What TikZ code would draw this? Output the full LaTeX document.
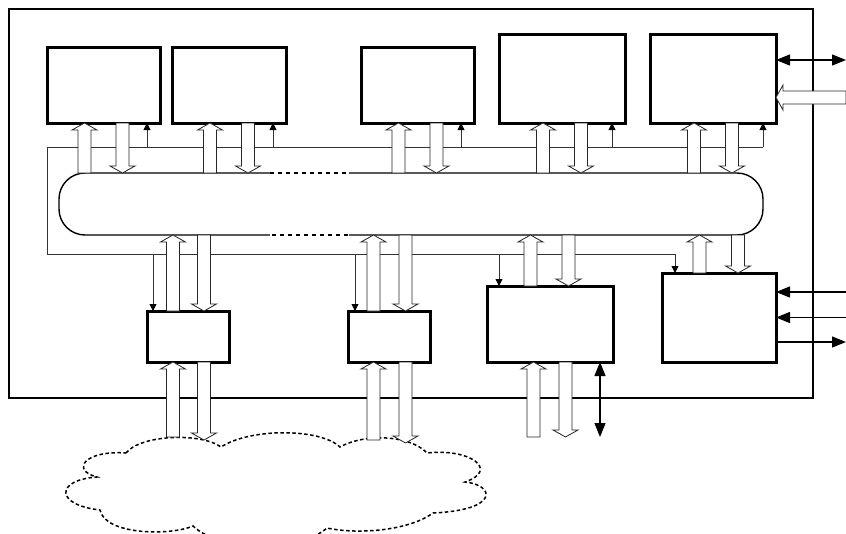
\documentclass[tikz,border=0pt]{standalone}
\usetikzlibrary{arrows.meta,calc}

\begin{document}
\begin{tikzpicture}[x=1pt,y=-1pt,
  unit/.style={draw=black,line width=3pt,fill=white,inner sep=0pt,outer sep=0pt},
  frame/.style={draw=black,line width=1.4pt,inner sep=0pt,outer sep=0pt},
  ctl/.style={draw=black!80,line width=.8pt},
  ctlarr/.style={ctl,-{Triangle[length=7pt,width=7pt,color=black]}},
  sig/.style={draw=black,line width=1.3pt,-{Triangle[length=14pt,width=11pt]}},
  sigboth/.style={draw=black,line width=1.3pt,{Triangle[length=14pt,width=11pt]}-{Triangle[length=14pt,width=11pt]}},
  fat/.style={draw=black!85,line width=.8pt,fill=white,
    to path={let \p1=(\tikztostart),\p2=(\tikztotarget),
      \n1={veclen(\x2-\x1,\y2-\y1)},\n2={(\x2-\x1)/\n1},\n3={(\y2-\y1)/\n1} in
      (\x1-6.5*\n3,\y1+6.5*\n2) -- (\x2-7*\n2-6.5*\n3,\y2-7*\n3+6.5*\n2)
      -- (\x2-7*\n2-12.5*\n3,\y2-7*\n3+12.5*\n2) -- (\tikztotarget)
      -- (\x2-7*\n2+12.5*\n3,\y2-7*\n3-12.5*\n2) -- (\x2-7*\n2+6.5*\n3,\y2-7*\n3-6.5*\n2)
      -- (\x1+6.5*\n3,\y1-6.5*\n2) -- cycle}},
  cloudline/.style={draw=black,line width=1.5pt,dash pattern=on 3.5pt off 2.5pt}]
\useasboundingbox (0,0) rectangle (846,533);

% system frame
\node[frame,minimum width=804pt,minimum height=389pt] (sys) at (411,203.5) {};
\coordinate (rim) at (846,0);

% control lines
\coordinate (ctop) at (47,147);
\coordinate (cbot) at (47,254);

% units on top
\node[unit,minimum width=113pt,minimum height=76pt] (t1) at (103.5,85) {};
\node[unit,minimum width=114pt,minimum height=76pt] (t2) at (229,85) {};
\node[unit,minimum width=113pt,minimum height=76pt] (t3) at (417.5,85) {};
\node[unit,minimum width=126pt,minimum height=89pt] (t4) at (562,78.5) {};
\node[unit,minimum width=126pt,minimum height=89pt] (t5) at (713,78.5) {};

% units below
\node[unit,minimum width=82pt,minimum height=51pt] (b1) at (188,336.5) {};
\node[unit,minimum width=82pt,minimum height=51pt] (b2) at (389,336.5) {};
\node[unit,minimum width=126pt,minimum height=76pt] (b3) at (550,324) {};
\node[unit,minimum width=114pt,minimum height=89pt] (b4) at (719,317.5) {};

\draw[ctl] ([xshift=-13pt]t5.south east |- ctop) -- (ctop) -- (cbot) -- ([xshift=13pt]b4.north west |- cbot);
\foreach \b in {t1,t2,t3,t4,t5}
  \draw[ctlarr] ([xshift=-13pt]\b.south east |- ctop) -- ([xshift=-13pt]\b.south east);
\foreach \b/\d in {b1/6,b2/7,b3/12,b4/13}
  \draw[ctlarr] ([xshift=\d pt]\b.north west |- cbot) -- ([xshift=\d pt]\b.north west);

% bus
\node[draw=black,line width=1.4pt,rounded corners=26pt,minimum width=704pt,minimum height=62pt,
  inner sep=0pt,outer sep=0pt] (bus) at (411,204) {};
\draw[white,line width=3pt] (270,173) -- (349,173) (270,235) -- (349,235);
\draw[line width=1.4pt,dash pattern=on 4pt off 4pt] (270,173) -- (349,173) (272,235) -- (349,235);

% network cloud
\draw[cloudline] (126,453) .. controls (140,435) and (200,432) .. (221,447)
  .. controls (250,428) and (320,428) .. (340,447)
  .. controls (365,433) and (410,435) .. (427,453)
  .. controls (470,448) and (500,470) .. (465,482)
  .. controls (495,485) and (500,510) .. (433,513)
  .. controls (410,530) and (360,535) .. (327,528)
  .. controls (300,552) and (220,552) .. (193,526)
  .. controls (170,536) and (105,535) .. (100,510)
  .. controls (55,505) and (55,480) .. (97,477)
  .. controls (70,470) and (85,450) .. (126,453);

% data paths to the bus
\foreach \b in {t1,t2,t3,t4,t5} {
  \draw[fat] ([xshift=-19pt]\b.south |- bus.north) to ([xshift=-19pt]\b.south);
  \draw[fat] ([xshift=19pt]\b.south) to ([xshift=19pt]\b.south |- bus.north);
}
\foreach \b/\u/\d in {b1/-15/16,b2/-15.5/16.5,b3/-19.5/18.5,b4/-19.5/19} {
  \draw[fat] ([xshift=\u pt]\b.north) to ([xshift=\u pt]\b.north |- bus.south);
  \draw[fat] ([xshift=\d pt]\b.north |- bus.south) to ([xshift=\d pt]\b.north);
}

% paths to the network
\draw[fat] ([xshift=-15pt,yshift=-75pt]b1.south) to ([xshift=-15pt]b1.south);
\draw[fat] ([xshift=16pt]b1.south) to ([xshift=16pt,yshift=-78pt]b1.south);
\draw[fat] ([xshift=-15.5pt,yshift=-78pt]b2.south) to ([xshift=-15.5pt]b2.south);
\draw[fat] ([xshift=16.5pt]b2.south) to ([xshift=16.5pt,yshift=-81pt]b2.south);
\draw[fat] ([xshift=-16.5pt,yshift=-75pt]b3.south) to ([xshift=-16.5pt]b3.south);
\draw[fat] ([xshift=15.5pt]b3.south) to ([xshift=15.5pt,yshift=-75pt]b3.south);
\draw[sigboth] ([xshift=50pt]b3.south) -- ([xshift=50pt,yshift=-75pt]b3.south);

% outside signals
\draw[sigboth] ([yshift=18.5pt]t5.east) -- ([yshift=18.5pt]t5.east -| rim);
\draw[fat] ([yshift=-19pt]t5.east -| rim) to ([yshift=-19pt]t5.east);
\draw[sig] ([yshift=25.5pt]b4.east -| rim) -- ([yshift=25.5pt]b4.east);
\draw[sig] (b4.east -| rim) -- (b4.east);
\draw[sig] ([yshift=-24.5pt]b4.east) -- ([yshift=-24.5pt]b4.east -| rim);
\end{tikzpicture}
\end{document}
